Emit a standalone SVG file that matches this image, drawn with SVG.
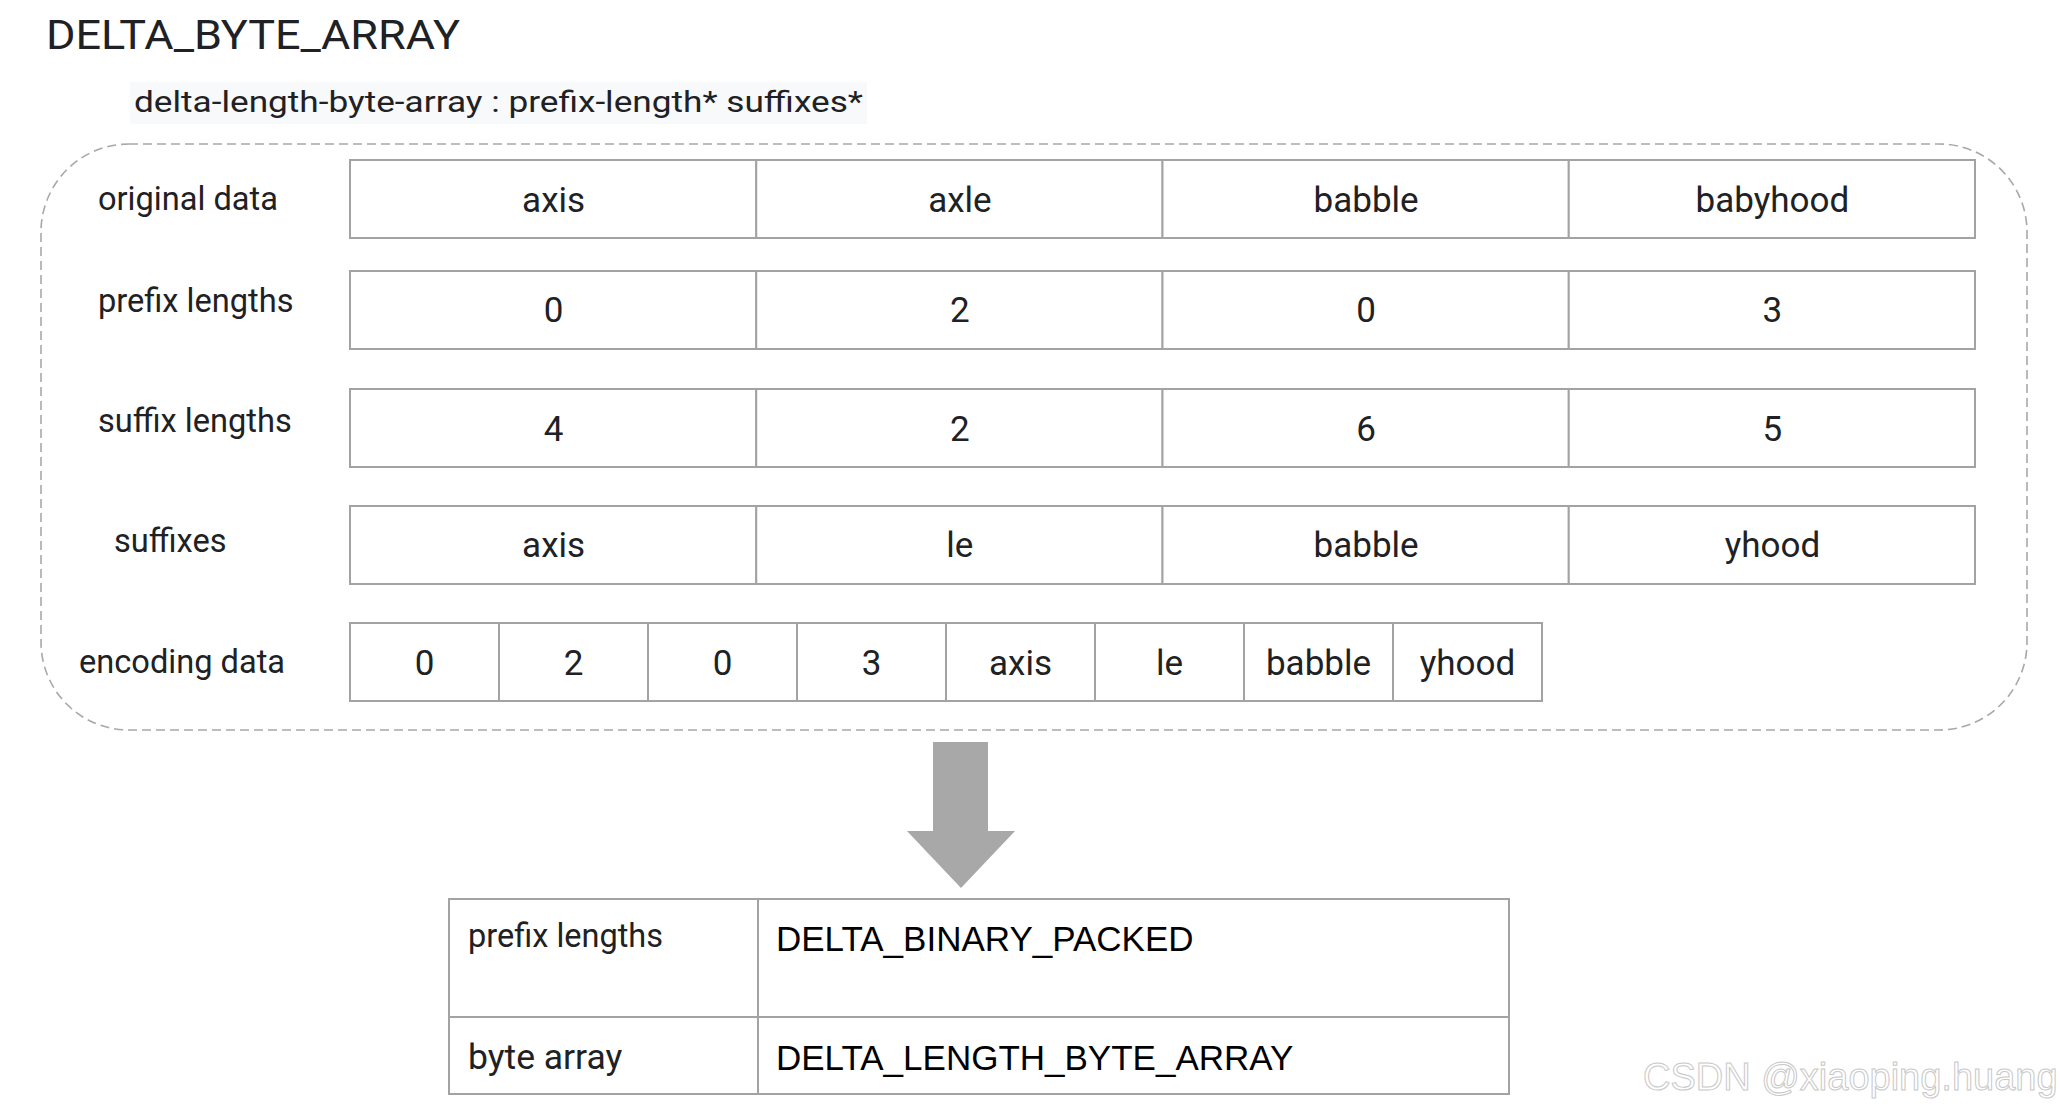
<svg xmlns="http://www.w3.org/2000/svg" width="2060" height="1112" viewBox="0 0 2060 1112">
<style>
  .cell { fill: #ffffff; stroke: #a3a3a3; stroke-width: 2; }
  .val { font-family: Roboto, "Liberation Sans", sans-serif; font-size: 35px; fill: #202124; text-anchor: middle; }
  .lbl { font-family: Roboto, "Liberation Sans", sans-serif; font-size: 32.6px; fill: #202124; }
  .enc { font-family: "Liberation Sans", Arial, sans-serif; font-size: 35px; fill: #000000; }
</style>
<rect width="2060" height="1112" fill="#ffffff"/>

<g id="title">
  <text x="46" y="49" font-family="Roboto, 'Liberation Sans', sans-serif" font-size="41" fill="#202124" textLength="414" lengthAdjust="spacingAndGlyphs">DELTA_BYTE_ARRAY</text>
</g>
<g id="subtitle">
  <rect x="130" y="82" width="737" height="42" fill="#f8f9fa"/>
  <text x="134" y="112" font-family="Roboto, 'Liberation Sans', sans-serif" font-size="29" fill="#202124" textLength="729" lengthAdjust="spacingAndGlyphs">delta-length-byte-array : prefix-length* suffixes*</text>
</g>

<g id="container">
  <rect x="41" y="144" width="1986" height="586" rx="88" ry="88" fill="none" stroke="#a8a8a8" stroke-width="1.6" stroke-dasharray="9 5"/>
</g>

<g id="labels">
  <text class="lbl" x="98" y="210">original data</text>
  <text class="lbl" x="98" y="312">prefix lengths</text>
  <text class="lbl" x="98" y="432">suffix lengths</text>
  <text class="lbl" x="114" y="552">suffixes</text>
  <text class="lbl" x="79" y="673">encoding data</text>
</g>

<g id="row-original">
  <g id="orig-0"><rect class="cell" x="350" y="160" width="406.25" height="78"/><text class="val" x="553.6" y="212">axis</text></g>
  <g id="orig-1"><rect class="cell" x="756.25" y="160" width="406.25" height="78"/><text class="val" x="959.9" y="212">axle</text></g>
  <g id="orig-2"><rect class="cell" x="1162.5" y="160" width="406.25" height="78"/><text class="val" x="1366.1" y="212">babble</text></g>
  <g id="orig-3"><rect class="cell" x="1568.75" y="160" width="406.25" height="78"/><text class="val" x="1772.4" y="212">babyhood</text></g>
</g>

<g id="row-prefix">
  <g id="prefix-0"><rect class="cell" x="350" y="271" width="406.25" height="78"/><text class="val" x="553.6" y="322">0</text></g>
  <g id="prefix-1"><rect class="cell" x="756.25" y="271" width="406.25" height="78"/><text class="val" x="959.9" y="322">2</text></g>
  <g id="prefix-2"><rect class="cell" x="1162.5" y="271" width="406.25" height="78"/><text class="val" x="1366.1" y="322">0</text></g>
  <g id="prefix-3"><rect class="cell" x="1568.75" y="271" width="406.25" height="78"/><text class="val" x="1772.4" y="322">3</text></g>
</g>

<g id="row-suffixlen">
  <g id="suflen-0"><rect class="cell" x="350" y="389" width="406.25" height="78"/><text class="val" x="553.6" y="441">4</text></g>
  <g id="suflen-1"><rect class="cell" x="756.25" y="389" width="406.25" height="78"/><text class="val" x="959.9" y="441">2</text></g>
  <g id="suflen-2"><rect class="cell" x="1162.5" y="389" width="406.25" height="78"/><text class="val" x="1366.1" y="441">6</text></g>
  <g id="suflen-3"><rect class="cell" x="1568.75" y="389" width="406.25" height="78"/><text class="val" x="1772.4" y="441">5</text></g>
</g>

<g id="row-suffixes">
  <g id="suf-0"><rect class="cell" x="350" y="506" width="406.25" height="78"/><text class="val" x="553.6" y="557">axis</text></g>
  <g id="suf-1"><rect class="cell" x="756.25" y="506" width="406.25" height="78"/><text class="val" x="959.9" y="557">le</text></g>
  <g id="suf-2"><rect class="cell" x="1162.5" y="506" width="406.25" height="78"/><text class="val" x="1366.1" y="557">babble</text></g>
  <g id="suf-3"><rect class="cell" x="1568.75" y="506" width="406.25" height="78"/><text class="val" x="1772.4" y="557">yhood</text></g>
</g>

<g id="row-encoding">
  <g id="enc-0"><rect class="cell" x="350" y="623" width="149" height="78"/><text class="val" x="424.5" y="675">0</text></g>
  <g id="enc-1"><rect class="cell" x="499" y="623" width="149" height="78"/><text class="val" x="573.5" y="675">2</text></g>
  <g id="enc-2"><rect class="cell" x="648" y="623" width="149" height="78"/><text class="val" x="722.5" y="675">0</text></g>
  <g id="enc-3"><rect class="cell" x="797" y="623" width="149" height="78"/><text class="val" x="871.5" y="675">3</text></g>
  <g id="enc-4"><rect class="cell" x="946" y="623" width="149" height="78"/><text class="val" x="1020.5" y="675">axis</text></g>
  <g id="enc-5"><rect class="cell" x="1095" y="623" width="149" height="78"/><text class="val" x="1169.5" y="675">le</text></g>
  <g id="enc-6"><rect class="cell" x="1244" y="623" width="149" height="78"/><text class="val" x="1318.5" y="675">babble</text></g>
  <g id="enc-7"><rect class="cell" x="1393" y="623" width="149" height="78"/><text class="val" x="1467.5" y="675">yhood</text></g>
</g>

<g id="connectors">
  <polygon points="933,742 988,742 988,831 1015,831 961,888 907,831 933,831" fill="#a8a8a8"/>
</g>

<g id="result-table">
  <g id="res-prefix-label"><rect class="cell" x="449" y="899" width="309" height="118"/><text x="468" y="947" font-family="Roboto, 'Liberation Sans', sans-serif" font-size="32.5" fill="#202124">prefix lengths</text></g>
  <g id="res-prefix-enc"><rect class="cell" x="758" y="899" width="751" height="118"/><text class="enc" x="776" y="951">DELTA_BINARY_PACKED</text></g>
  <g id="res-byte-label"><rect class="cell" x="449" y="1017" width="309" height="77"/><text x="468" y="1069" font-family="Roboto, 'Liberation Sans', sans-serif" font-size="35.5" fill="#202124">byte array</text></g>
  <g id="res-byte-enc"><rect class="cell" x="758" y="1017" width="751" height="77"/><text class="enc" x="776" y="1070">DELTA_LENGTH_BYTE_ARRAY</text></g>
</g>

<g id="watermark">
  <text x="1643" y="1090" font-family="'Liberation Sans', Arial, sans-serif" font-size="38" fill="#ffffff" stroke="#c8c8c8" stroke-width="1">CSDN @xiaoping.huang</text>
</g>
</svg>
